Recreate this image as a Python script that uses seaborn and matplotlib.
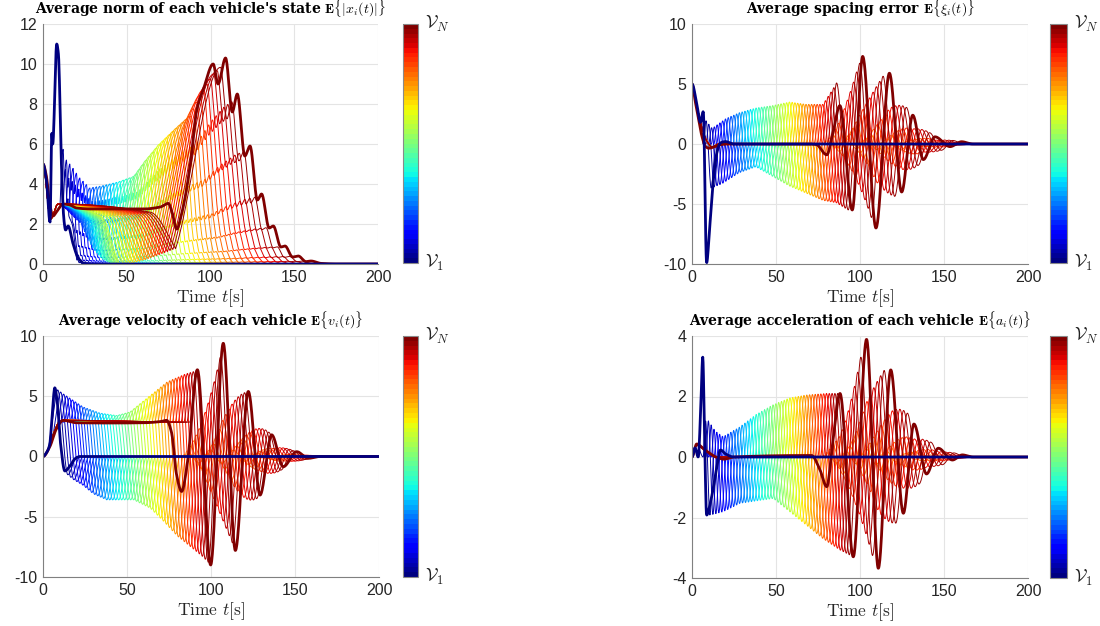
import numpy as np
import pandas as pd
import matplotlib
matplotlib.use("Agg")
import matplotlib.pyplot as plt
import seaborn as sns
from matplotlib.colors import ListedColormap, Normalize
from matplotlib.cm import ScalarMappable

N_VEH = 50
t = np.arange(0, 200.001, 0.2)

# ---------------------------------------------------------------
# Values
# ---------------------------------------------------------------

# Panel 1: average norm of the state
norm_first_t = [0, 2, 4.2, 5.3, 5.8, 8.2, 9.2, 11, 12.5, 13.5, 15, 18, 21, 25, 30, 200]
norm_first_y = [5, 4.2, 2.1, 6.6, 6.0, 11.0, 10.5, 5.0, 2.2, 1.7, 1.9, 1.0, 0.3, 0.02, 0, 0]
norm_last_t = [0, 2, 4, 6, 8, 12, 16, 20, 30, 60, 70, 74.8, 77, 79.8, 83, 88, 91.8, 96,
               101.6, 104.5, 109, 113, 116, 120.5, 123.6, 128, 130.5, 135, 137.5, 142,
               144.5, 149, 152.4, 157, 160, 166, 175, 200]
norm_last_y = [5, 4.4, 3.0, 2.4, 2.6, 3.0, 2.95, 2.8, 2.75, 2.75, 2.85, 3.03, 2.6, 1.75,
               2.6, 5.0, 7.7, 8.8, 10.0, 9.0, 10.3, 7.6, 8.5, 5.4, 5.9, 3.2, 3.5, 1.8,
               1.9, 0.85, 0.9, 0.35, 0.4, 0.12, 0.15, 0.03, 0, 0]
norm_up_t = [11, 14, 17, 22, 28, 35, 45, 55, 62, 70, 80, 88, 95, 102, 108]
norm_up_y = [6.0, 5.2, 4.9, 4.3, 3.8, 3.9, 4.1, 4.4, 5.2, 6.0, 6.8, 7.4, 8.6, 9.5, 10.0]

# Panel 2: average spacing error
xi_first_t = [0, 3, 5, 6.7, 8.7, 10.5, 12.7, 15, 17, 20, 25, 200]
xi_first_y = [5, 3.2, 1.8, 2.7, -9.9, -7.0, -3.0, -0.6, 0.1, 0.2, 0, 0]
xi_last_t = [0, 2, 4, 6, 8, 10, 13, 17, 22, 70, 74, 80.2, 84, 88, 95.4, 101.6, 109.5,
             117.5, 124.8, 131.4, 137.7, 144.6, 153.6, 160.5, 167, 200]
xi_last_y = [5, 3.5, 2.0, 0.6, -0.2, -0.35, -0.25, -0.05, 0, 0, -0.05, -0.9, 1.0, 3.2,
             -5.5, 7.3, -7.0, 5.9, -4.0, 2.4, -1.3, 0.6, -0.22, 0.19, 0, 0]
xi_up_t = [8, 12, 16, 20, 28, 38, 48, 58, 68, 78, 84, 92, 99, 101.6, 117.5, 131.4, 144.6, 160.5, 170]
xi_up_y = [2.0, 1.3, 1.7, 2.1, 2.6, 3.0, 3.2, 3.5, 3.3, 3.3, 4.6, 6.5, 7.5, 7.3, 5.9, 2.4, 0.6, 0.19, 0]
xi_lo_t = [11, 18, 28, 38, 48, 58, 68, 78, 86, 95.4, 109.5, 124.8, 137.7, 153.6, 165]
xi_lo_y = [-3.7, -3.3, -2.4, -1.9, -2.7, -3.5, -4.1, -4.7, -4.9, -5.7, -7.0, -4.0, -1.3, -0.22, 0]

# Panel 3: average velocity
v_first_t = [0, 2, 4, 5.5, 7, 8.5, 10.5, 13, 16, 19, 22, 200]
v_first_y = [0, 0.3, 1.0, 3.5, 5.7, 4.5, 1.0, -1.2, -0.8, -0.2, 0, 0]
v_last_t = [0, 4, 8, 12, 20, 40, 60, 70, 73.6, 76.5, 79.5, 82.5, 86, 91.9, 99.8, 107.3,
            114.5, 122.2, 129.2, 136.1, 143, 151, 157.9, 165, 200]
v_last_y = [0, 0.8, 2.3, 3.0, 2.8, 2.78, 2.8, 2.9, 3.0, 2.0, -1.5, -2.9, -0.5, 7.2, -9.0,
            9.4, -7.8, 5.4, -3.2, 1.8, -0.85, 0.4, -0.15, 0, 0]
v_up_t = [7, 12, 24, 34, 44, 52, 58, 66, 74, 84, 93, 107, 122, 136, 151, 165]
v_up_y = [5.7, 5.2, 4.1, 3.6, 3.4, 3.7, 4.4, 5.3, 6.2, 6.8, 7.2, 9.3, 5.3, 1.8, 0.3, 0]
v_lo_t = [13, 18, 24, 30, 38, 54, 64, 72, 80, 88, 95, 100, 114, 129, 143, 158, 170]
v_lo_y = [-1.3, -1.9, -2.4, -3.1, -3.6, -3.6, -4.3, -5.4, -6.6, -7.5, -8.3, -9.0, -7.8,
          -3.3, -1.0, -0.15, 0]

# Panel 4: average acceleration
a_first_t = [0, 1.8, 3.7, 5.2, 6.4, 7.5, 8.7, 11, 14, 17, 20, 25, 200]
a_first_y = [0, 0.3, 0.0, 1.6, 3.3, 0.6, -1.92, -1.5, -0.6, 0.23, 0.1, 0, 0]
a_last_t = [0, 2.8, 7.7, 14.7, 19, 25, 71.2, 76, 80.2, 84, 88.1, 96, 103.9, 110.9, 118.3,
            125.8, 132.1, 139.6, 146.6, 155, 160.9, 167, 200]
a_last_y = [0, 0.43, 0.23, -0.01, -0.07, 0, 0.05, -0.4, -0.98, 0.6, 2.1, -3.3, 3.89, -3.68,
            2.88, -1.86, 1.09, -0.56, 0.29, -0.1, 0.07, 0, 0]
a_up_t = [9.7, 14, 18.6, 28.6, 38, 48, 58, 68, 80, 88, 95, 100, 103.9, 118.3, 132.1, 146.6, 160.9, 170]
a_up_y = [1.2, 0.85, 0.67, 1.0, 1.4, 1.72, 1.95, 2.05, 2.1, 2.1, 3.0, 3.6, 3.89, 2.88, 1.09, 0.29, 0.07, 0]
a_lo_t = [8.7, 18.6, 28.6, 48.4, 58, 68, 78, 88, 96, 110.9, 125.8, 139.6, 155, 165]
a_lo_y = [-1.95, -1.81, -1.53, -1.37, -1.8, -2.25, -2.7, -3.07, -3.3, -3.68, -1.86, -0.56, -0.1, 0]

titles = [r"Average norm of each vehicle's state $\mathbf{E}\{|x_i(t)|\}$",
          r"Average spacing error $\mathbf{E}\{\xi_i(t)\}$",
          r"Average velocity of each vehicle $\mathbf{E}\{v_i(t)\}$",
          r"Average acceleration of each vehicle $\mathbf{E}\{a_i(t)\}$"]
y_lims = [(0, 12), (-10, 10), (-10, 10), (-4, 4)]
y_ticks = [np.arange(0, 13, 2), [-10, -5, 0, 5, 10], [-10, -5, 0, 5, 10], [-4, -2, 0, 2, 4]]


# ---------------------------------------------------------------
# helpers
# ---------------------------------------------------------------
def pchip(xk, yk, x):
    # monotone cubic through the read points (Fritsch-Carlson)
    xk = np.asarray(xk, float)
    yk = np.asarray(yk, float)
    h = np.diff(xk)
    d = np.diff(yk) / h
    m = np.zeros_like(yk)
    for k in range(1, len(xk) - 1):
        if d[k - 1] * d[k] > 0:
            w1 = 2 * h[k] + h[k - 1]
            w2 = h[k] + 2 * h[k - 1]
            m[k] = (w1 + w2) / (w1 / d[k - 1] + w2 / d[k])
    m[0], m[-1] = 0.0, 0.0
    idx = np.clip(np.searchsorted(xk, x) - 1, 0, len(h) - 1)
    s = np.clip((x - xk[idx]) / h[idx], 0, 1)
    h00 = 2 * s**3 - 3 * s**2 + 1
    h10 = s**3 - 2 * s**2 + s
    h01 = -2 * s**3 + 3 * s**2
    h11 = s**3 - s**2
    return h00 * yk[idx] + h10 * h[idx] * m[idx] + h01 * yk[idx + 1] + h11 * h[idx] * m[idx + 1]


def clean(tk, yk):
    tk = np.asarray(tk, float)
    yk = np.asarray(yk, float)
    keep = [0]
    for k in range(1, len(tk)):
        if tk[k] > tk[keep[-1]] + 0.05 and tk[k] <= 200:
            keep.append(k)
    tk, yk = tk[keep], yk[keep]
    if tk[-1] < 200:
        tk = np.r_[tk, 200]
        yk = np.r_[yk, 0]
    return tk, yk


def norm_vehicle(f):
    T = 10 + 98 * f
    H = np.interp(T, norm_up_t, norm_up_y)
    R = 3 + 30 * f
    w = 0.2 + 0.8 * f**3
    lt = np.array(norm_last_t)
    ly = np.array(norm_last_y)
    sel = lt > 109
    tb = np.r_[0, T - R, T, T + (lt[sel] - 109) * w]
    yb = np.r_[0, 0, H, ly[sel] * H / 10.3]
    B = pchip(*clean(tb, yb), t)
    d = 20 + 45 * f if f < 0.6 else 7 + 68 * f + 15 * (f - 0.6) / 0.4
    mid = 9 + 0.7 * (d - 9)
    A = pchip(*clean([0, 4.5, 9, mid, d], [5, 2.25, 3.0, 2.0 + 0.6 * f, 0]), t)
    return np.clip(np.maximum(A, B), 0, None)


def signed_vehicle(f, p):
    T = p["t0"] + p["span"] * f
    h = p["h0"] + p["h1"] * f
    gap = 0.55 * h
    tk = [x for x in p["shared_t"] if x < T - gap]
    yk = list(p["shared_y"][:len(tk)])
    if T - gap > tk[-1] + 0.5:
        tk.append(T - gap)
        yk.append(p["hold"])
    tk += [T, T + h]
    yk += [np.interp(T, p["up_t"], p["up_y"]), np.interp(T + h, p["lo_t"], p["lo_y"])]
    late = 0.72
    if f > late:
        s = ((f - late) / (1 - late)) ** 1.3
        k = 2
        while T + k * h < 166:
            tt = T + k * h
            if k % 2 == 0:
                amp = np.interp(tt, p["up_t"], p["up_y"])
            else:
                amp = np.interp(tt, p["lo_t"], p["lo_y"])
            tk.append(tt)
            yk.append(amp * s)
            k += 1
    tk.append(tk[-1] + 0.9 * h)
    yk.append(0)
    return pchip(*clean(tk, yk), t)


params = {
    1: dict(t0=6.7, span=81, h0=3.0, h1=4.0, shared_t=[0, 3, 6, 9, 12, 16],
            shared_y=[5, 3.1, 1.3, 0.2, -0.25, 0], hold=0,
            up_t=xi_up_t, up_y=xi_up_y, lo_t=xi_lo_t, lo_y=xi_lo_y),
    2: dict(t0=7, span=86, h0=6.0, h1=1.2, shared_t=[0, 3, 6, 10, 14],
            shared_y=[0, 0.6, 1.8, 2.9, 3.0], hold=2.85,
            up_t=v_up_t, up_y=v_up_y, lo_t=v_lo_t, lo_y=v_lo_y),
    3: dict(t0=6.4, span=82, h0=2.5, h1=4.5, shared_t=[0, 2.8, 7.7, 14.7],
            shared_y=[0, 0.4, 0.23, 0], hold=0,
            up_t=a_up_t, up_y=a_up_y, lo_t=a_lo_t, lo_y=a_lo_y),
}
firsts = [(norm_first_t, norm_first_y), (xi_first_t, xi_first_y),
          (v_first_t, v_first_y), (a_first_t, a_first_y)]
lasts = [(norm_last_t, norm_last_y), (xi_last_t, xi_last_y),
         (v_last_t, v_last_y), (a_last_t, a_last_y)]

jet = plt.get_cmap("jet")
colors = [jet(i / (N_VEH - 1)) for i in range(N_VEH)]

# ---------------------------------------------------------------
# figure
# ---------------------------------------------------------------
sns.set_theme(style="white")
plt.rcParams["font.family"] = ["Liberation Sans", "DejaVu Sans"]
plt.rcParams["mathtext.fontset"] = "cm"
plt.rcParams["axes.unicode_minus"] = False

W, H = 1100, 626
fig = plt.figure(figsize=(11, 6.26), dpi=100)
ax_px = [(43, 24, 378, 264), (692, 24, 1028, 264), (43, 336, 379, 577), (692, 336, 1028, 578)]
cb_px = [(403, 24, 418, 263), (1050, 24, 1067, 263), (403, 336, 418, 577), (1050, 336, 1067, 578)]


def rect(p):
    x0, y0, x1, y1 = p
    return [x0 / W, 1 - y1 / H, (x1 - x0) / W, (y1 - y0) / H]


for k in range(4):
    ax = fig.add_axes(rect(ax_px[k]))

    rows = []
    for i in range(1, N_VEH - 1):
        f = i / (N_VEH - 1)
        y = norm_vehicle(f) if k == 0 else signed_vehicle(f, params[k])
        rows.append(pd.DataFrame({"t": t, "y": y, "veh": i}))
    df = pd.concat(rows, ignore_index=True)

    sns.lineplot(data=df, x="t", y="y", hue="veh", palette=colors[1:N_VEH - 1],
                 hue_order=list(range(1, N_VEH - 1)), estimator=None, sort=False,
                 linewidth=0.7, legend=False, ax=ax)

    lt, ly = lasts[k]
    sns.lineplot(x=t, y=pchip(lt, ly, t), color=colors[-1], linewidth=2.0,
                 estimator=None, sort=False, ax=ax)
    ft, fy = firsts[k]
    sns.lineplot(x=t, y=pchip(ft, fy, t), color=colors[0], linewidth=2.0,
                 estimator=None, sort=False, ax=ax)

    ax.set_xlim(0, 200)
    ax.set_ylim(*y_lims[k])
    ax.set_xticks([0, 50, 100, 150, 200])
    ax.set_yticks(y_ticks[k])
    ax.grid(True, color="#e4e4e4", linewidth=0.8)
    ax.set_axisbelow(True)
    for side in ["top", "right"]:
        ax.spines[side].set_visible(False)
    for side in ["left", "bottom"]:
        ax.spines[side].set_color("#808080")
        ax.spines[side].set_linewidth(0.8)
    ax.tick_params(direction="in", length=3, width=0.6, color="#808080",
                   labelsize=11.5, labelcolor="#262626", pad=4)
    ax.set_ylabel("")
    ax.set_xlabel(r"Time $t$[s]", fontfamily="cmr10", fontsize=12.5, labelpad=2, color="#262626")
    ax.set_title(titles[k], fontfamily="DejaVu Serif", fontweight="bold", fontsize=10,
                 pad=7.2, color="black")

    # colorbar
    cax = fig.add_axes(rect(cb_px[k]))
    sm = ScalarMappable(cmap=ListedColormap(colors), norm=Normalize(0, 1))
    cb = fig.colorbar(sm, cax=cax, ticks=np.arange(0.1, 0.95, 0.1))
    cb.outline.set_edgecolor("#8a8a8a")
    cb.outline.set_linewidth(0.8)
    cax.tick_params(direction="in", length=3, width=0.6, color="#444444",
                    labelright=False, right=True)
    cax.annotate(r"$\mathcal{V}_N$", xy=(1, 1), xycoords="axes fraction", xytext=(5, 0),
                 textcoords="offset points", ha="left", va="center", fontsize=13,
                 color="#222222")
    cax.annotate(r"$\mathcal{V}_1$", xy=(1, 0), xycoords="axes fraction", xytext=(5, 0),
                 textcoords="offset points", ha="left", va="center", fontsize=13,
                 color="#222222")

fig.savefig("out.png", dpi=100)
